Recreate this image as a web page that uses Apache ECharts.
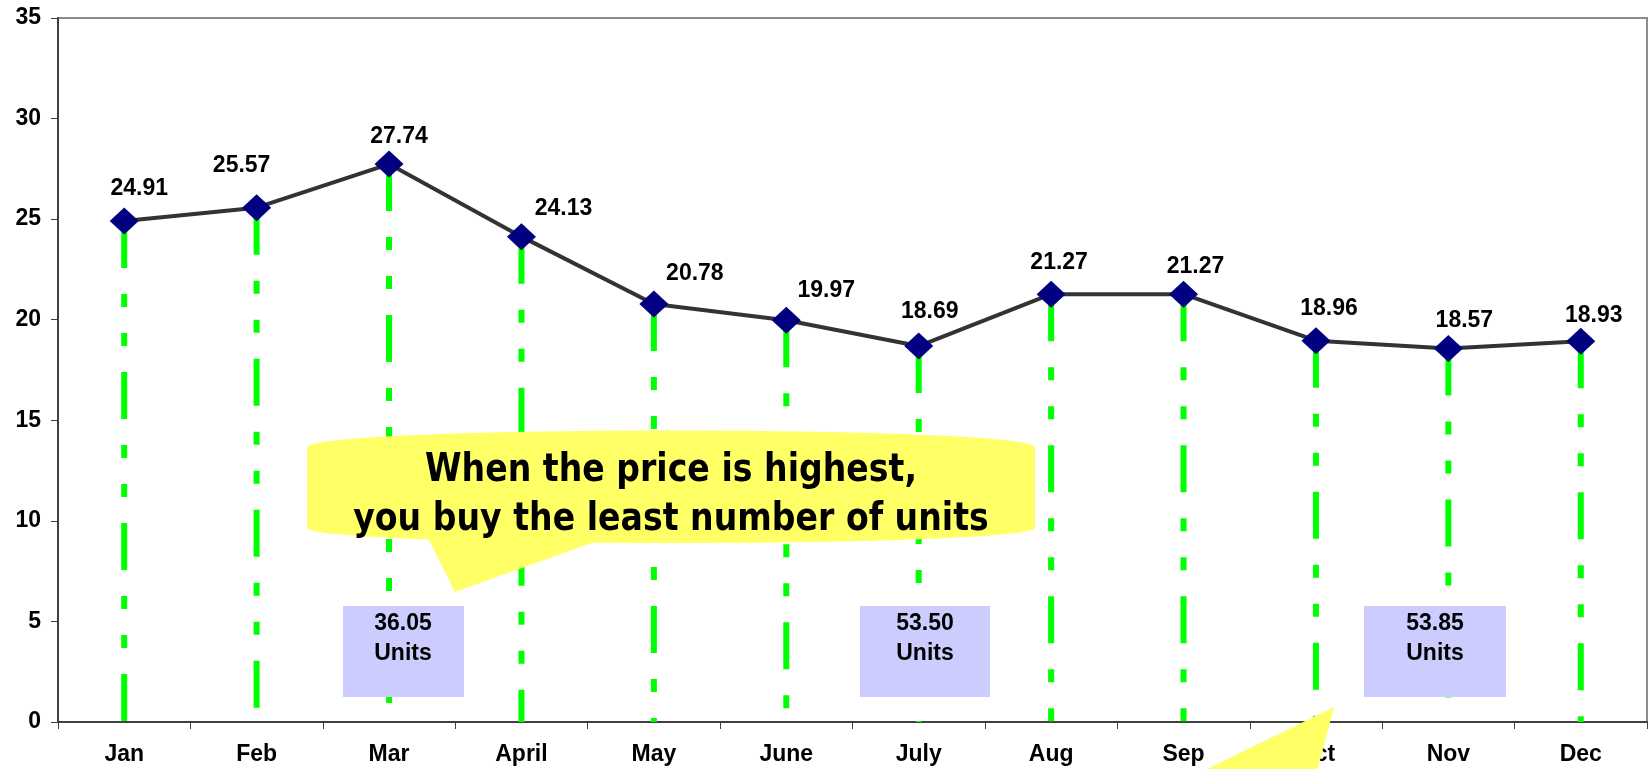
<!DOCTYPE html>
<html>
<head>
<meta charset="utf-8">
<script src="https://cdn.jsdelivr.net/npm/echarts@6/dist/echarts.min.js"></script>
<style>
  html, body { margin: 0; padding: 0; background: #fff; }
  #chart { width: 1652px; height: 769px; }
</style>
</head>
<body>
<div id="chart"></div>
<script>
// months and monthly unit price
const months = ["Jan", "Feb", "Mar", "April", "May", "June", "July", "Aug", "Sep", "Oct", "Nov", "Dec"];
const prices = [24.91, 25.57, 27.74, 24.13, 20.78, 19.97, 18.69, 21.27, 21.27, 18.96, 18.57, 18.93];
// units bought (shown in the blue boxes)
const unitLabels = ["36.05", "53.50", "53.85"];
const calloutText = "When the price is highest,\nyou buy the least number of units";

// where each price label sits relative to its marker (px)
const labelShift = [[15, -32], [-15, -42], [10, -27], [42, -28], [41, -30], [40, -30],
  [11, -34], [8, -32], [12, -28], [13, -32], [16, -28], [13, -26]];

// cubic bezier helper, used to outline the callout bubble
function bez(p0, p1, p2, p3, n) {
  const pts = [];
  for (let k = 0; k <= n; k++) {
    const t = k / n, u = 1 - t;
    pts.push([
      u * u * u * p0[0] + 3 * u * u * t * p1[0] + 3 * u * t * t * p2[0] + t * t * t * p3[0],
      u * u * u * p0[1] + 3 * u * u * t * p1[1] + 3 * u * t * t * p2[1] + t * t * t * p3[1]
    ]);
  }
  return pts;
}
const bubble = [].concat(
  bez([307, 447], [318, 425], [1024, 425], [1035, 447], 40),
  bez([1035, 528], [1024, 548], [318, 548], [307, 528], 40)
);

const chart = echarts.init(document.getElementById("chart"));
const bold = "bold";

function unitText(x, txt) {
  return {
    type: "text", z: 21, x: x, y: 639,
    style: { text: txt + "\nUnits", font: "bold 23px 'Liberation Sans'", fill: "#000",
      textAlign: "center", textVerticalAlign: "middle", lineHeight: 30 }
  };
}

chart.setOption({
  animation: false,
  backgroundColor: "#fff",
  grid: {
    left: 58, right: 5, top: 18, bottom: 47,
    show: true, borderColor: "#8c8c8c", borderWidth: 2
  },
  xAxis: {
    type: "category",
    data: months,
    boundaryGap: true,
    axisLine: { lineStyle: { color: "#404040", width: 2 } },
    axisTick: { show: true, length: 7, lineStyle: { color: "#404040", width: 1 } },
    axisLabel: { color: "#000", fontWeight: bold, fontSize: 23, fontFamily: "Liberation Sans", margin: 21 },
    splitLine: { show: false }
  },
  yAxis: {
    type: "value",
    min: 0, max: 35, interval: 5,
    axisLine: { show: true, lineStyle: { color: "#404040", width: 2 } },
    axisTick: { show: true, length: 7, lineStyle: { color: "#404040", width: 1 } },
    axisLabel: { color: "#000", fontWeight: bold, fontSize: 23, fontFamily: "Liberation Sans", margin: 17 },
    splitLine: { show: false }
  },
  series: [
    {
      // green drop lines from each point down to 0
      type: "custom",
      z: 1,
      silent: true,
      data: prices.map((v, i) => [i, v]),
      renderItem(params, api) {
        const top = api.coord([api.value(0), api.value(1)]);
        const bottom = api.coord([api.value(0), 0]);
        return {
          type: "line",
          shape: { x1: top[0], y1: top[1], x2: bottom[0], y2: bottom[1] },
          style: { stroke: "#00ff00", lineWidth: 6, lineDash: [47, 26, 13, 26, 13, 26] }
        };
      }
    },
    {
      type: "line",
      z: 3,
      data: prices.map((v, i) => ({
        value: v,
        label: { offset: labelShift[i] }
      })),
      symbol: "diamond",
      symbolSize: [29, 27],
      itemStyle: { color: "#000080" },
      lineStyle: { color: "#333333", width: 4 },
      label: {
        show: true,
        position: "inside",
        color: "#000",
        fontWeight: bold,
        fontSize: 23,
        fontFamily: "Liberation Sans",
        formatter: p => p.value.toFixed(2)
      },
      emphasis: { disabled: true }
    }
  ],
  graphic: [
    // callout bubble
    {
      type: "polygon",
      z: 20,
      shape: { points: bubble },
      style: { fill: "#ffff66" }
    },
    {
      type: "polygon",
      z: 20,
      shape: { points: [[427, 536], [455, 592], [611, 536]] },
      style: { fill: "#ffff66" }
    },
    {
      type: "text",
      z: 21,
      x: 671, y: 495,
      scaleX: 0.85,
      style: {
        text: calloutText,
        font: "bold 39px 'DejaVu Sans'",
        fill: "#000",
        textAlign: "center",
        textVerticalAlign: "middle",
        lineHeight: 49
      }
    },
    // tail of a second callout at the bottom
    {
      type: "polygon",
      z: 20,
      shape: { points: [[1334, 707], [1201, 772], [1317, 772]] },
      style: { fill: "#ffff66" }
    },
    // unit boxes
    { type: "rect", z: 20, shape: { x: 343, y: 606, width: 121, height: 91 }, style: { fill: "#ccccff" } },
    { type: "rect", z: 20, shape: { x: 860, y: 606, width: 130, height: 91 }, style: { fill: "#ccccff" } },
    { type: "rect", z: 20, shape: { x: 1364, y: 606, width: 142, height: 91 }, style: { fill: "#ccccff" } },
    unitText(403, unitLabels[0]),
    unitText(925, unitLabels[1]),
    unitText(1435, unitLabels[2])
  ]
});
</script>
</body>
</html>
